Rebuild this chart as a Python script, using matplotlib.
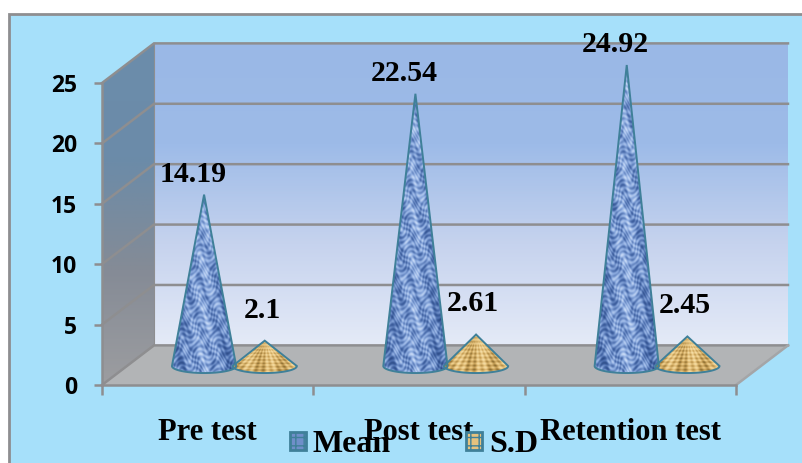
import numpy as np
import matplotlib
matplotlib.use("Agg")
import matplotlib.pyplot as plt
from matplotlib.colors import LinearSegmentedColormap
from matplotlib.patches import Patch, Polygon, Rectangle

categories = ["Pre test", "Post test", "Retention test"]
mean_values = [14.19, 22.54, 24.92]
sd_values = [2.1, 2.61, 2.45]
y_ticks = [0, 5, 10, 15, 20, 25]

sky = "#A6E0FA"
grey = "#8E8E90"
teal = "#3F8099"
serif = "Liberation Serif"

# depth of the fake 3d box, in data units
dx = 0.246
dy = 3.28
base_y = 1.57
half_w = 0.152
half_h = 0.58

wall_cmap = LinearSegmentedColormap.from_list("wall", ["#E4EAF7", "#C6D3EE", "#9DBBE8", "#9AB8E6"])
side_cmap = LinearSegmentedColormap.from_list("side", ["#9C9DA0", "#858B96", "#6B8BA9", "#6C8DAB"])
blue_cmap = LinearSegmentedColormap.from_list("blue", ["#24427C", "#486AAA", "#8DACE0", "#CFE0F9"])
gold_cmap = LinearSegmentedColormap.from_list("gold", ["#86692F", "#C9A158", "#EFD08E", "#F8E6B8"])

plt.rcParams["hatch.color"] = "#3B5A98"
plt.rcParams["hatch.linewidth"] = 1.0

fig = plt.figure(figsize=(8.03, 4.63), dpi=100, facecolor="white")
fig.patches.append(Rectangle((9 / 803, -0.1), 1.1, 0.1 + (463 - 14) / 463, transform=fig.transFigure,
                             facecolor=sky, edgecolor=grey, linewidth=2, figure=fig, zorder=-1))

ax = fig.add_axes([102 / 803, (463 - 385) / 463, 634 / 803, 302 / 463])
ax.patch.set_visible(False)


def gradient(points, cmap):
    # vertical colour ramp clipped to a polygon
    pts = np.array(points)
    ramp = np.linspace(0, 1, 200).reshape(-1, 1)
    im = ax.imshow(ramp, cmap=cmap, origin="lower", aspect="auto", zorder=1,
                   extent=(pts[:, 0].min(), pts[:, 0].max(), pts[:, 1].min(), pts[:, 1].max()))
    poly = Polygon(pts, transform=ax.transData, facecolor="none", edgecolor="none")
    im.set_clip_path(poly)
    im.set_clip_box(fig.bbox)


def cone_outline(x, value):
    t = np.linspace(np.pi, 2 * np.pi, 40)
    xs = x + half_w * np.cos(t)
    ys = base_y + half_h * np.sin(t)
    return np.vstack([np.column_stack([xs, ys]), [x, base_y + value]])


def cone(x, value, cmap, gold=False):
    outline = cone_outline(x, value)
    u, v = np.meshgrid(np.linspace(-1, 1, 130), np.linspace(0, 1, max(int(value * 12) + 8, 40)))
    h = v * value
    if gold:
        angle = u / np.maximum(1 - v, 0.05)
        tex = 0.6 * np.sin(angle * 24) + 0.5 * np.sin(v * 60) + 0.5 * (v - 0.3)
        tex = tex + 0.4 * np.sin(u * 9)
    else:
        # woven, mottled look
        tex = np.sin(u * 25 + 3 * np.sin(h * 2.3 + u * 7)) * np.sin(h * 9.4 + 3 * np.sin(u * 11))
        tex = tex + 0.4 * np.sin(h * 1.7 + u * 13) + 1.1 * (0.5 - np.abs(u + 0.05))
    im = ax.imshow(tex, cmap=cmap, origin="lower", aspect="auto", zorder=3, interpolation="bilinear",
                   extent=(x - half_w, x + half_w, base_y - half_h, base_y + value))
    poly = Polygon(outline, transform=ax.transData, facecolor="none", edgecolor="none")
    im.set_clip_path(poly)
    im.set_clip_box(fig.bbox)
    ax.add_patch(Polygon(outline, facecolor="none", edgecolor=teal, linewidth=1.4, zorder=4, clip_on=False))


# walls and floor
gradient([(dx, dy), (3 + dx, dy), (3 + dx, 25 + dy), (dx, 25 + dy)], wall_cmap)
gradient([(0, 0), (dx, dy), (dx, 25 + dy), (0, 25)], side_cmap)
ax.add_patch(Polygon([(0, 0), (3, 0), (3 + dx, dy), (dx, dy)], facecolor="#B2B4B6", edgecolor="none",
                     zorder=1.5, clip_on=False))

for v in y_ticks:
    ax.plot([0, dx, 3 + dx], [v, v + dy, v + dy], color=grey, linewidth=1.8, zorder=2, clip_on=False,
            solid_joinstyle="miter")
ax.plot([3, 3 + dx], [0, dy], color="#A4A5A7", linewidth=1.8, zorder=2, clip_on=False)
ax.plot([dx, dx], [dy, 25 + dy], color=grey, linewidth=0.8, zorder=2, clip_on=False)

for i in range(len(categories)):
    cone(i + 0.483, mean_values[i], blue_cmap)
    cone(i + 0.77, sd_values[i], gold_cmap, gold=True)
    ax.annotate(f"{mean_values[i]:g}", (i + 0.483, base_y + mean_values[i]), xytext=(-8, 14.5),
                textcoords="offset points", ha="center", va="center", family=serif, weight="bold",
                fontsize=21.5, color="black", zorder=6, annotation_clip=False)
    ax.annotate(f"{sd_values[i]:g}", (i + 0.77, base_y + sd_values[i]), xytext=(-2, 22),
                textcoords="offset points", ha="center", va="center", family=serif, weight="bold",
                fontsize=21.5, color="black", zorder=6, annotation_clip=False)

ax.set_xlim(0, 3)
ax.set_ylim(0, 25)

for side in ["top", "right"]:
    ax.spines[side].set_visible(False)
for side in ["left", "bottom"]:
    ax.spines[side].set_color(grey)
    ax.spines[side].set_linewidth(1.8)
    ax.spines[side].set_zorder(2.5)

ax.set_yticks(y_ticks)
ax.set_yticklabels([str(v) for v in y_ticks], family="Open Sans", weight="bold", fontsize=16.5, color="black")
ax.set_xticks([0, 1, 2, 3])
ax.set_xticklabels([])
ax.set_xticks([0.5, 1.5, 2.5], minor=True)
ax.set_xticklabels(categories, minor=True, family=serif, weight="bold", fontsize=22, color="black")
ax.tick_params(axis="y", length=6, width=1.8, color=grey, pad=12)
ax.tick_params(axis="x", which="major", length=7, width=1.8, color=grey)
ax.tick_params(axis="x", which="minor", length=0, pad=24)

handles = [Patch(facecolor="#6F8FC9", edgecolor=teal, linewidth=2, hatch="++", label="Mean"),
           Patch(facecolor="#E6C27E", edgecolor=teal, linewidth=2, hatch="++", label="S.D")]
ax.legend(handles=handles, loc="center", bbox_to_anchor=(414 / 803, (463 - 445) / 463),
          bbox_transform=fig.transFigure, ncol=2, frameon=False, handlelength=0.5, handleheight=0.5,
          handletextpad=0.22, columnspacing=2.35, prop={"family": serif, "weight": "bold", "size": 23},
          labelcolor="black").set_zorder(8)

fig.savefig("out.png", dpi=100, facecolor=fig.get_facecolor())
